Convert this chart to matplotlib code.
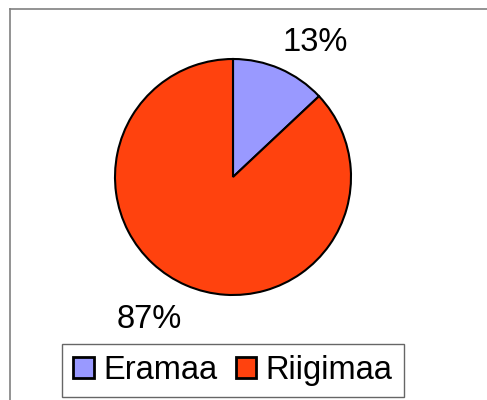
import numpy as np
import matplotlib
matplotlib.use("Agg")
import matplotlib.pyplot as plt
from matplotlib.lines import Line2D
from matplotlib.patches import Patch

categories = ["Eramaa", "Riigimaa"]
values = [13, 87]
colors = ["#9999FF", "#FF420E"]

plt.rcParams['font.family'] = ['Liberation Sans', 'DejaVu Sans']

W, H = 487, 400
fig = plt.figure(figsize=(W / 100, H / 100), dpi=100)

# outer chart border (top and left visible)
fig.add_artist(Line2D([10 / W, 10 / W], [0, 1 - 9 / H], transform=fig.transFigure,
                      color="#808080", lw=1.2))
fig.add_artist(Line2D([10 / W, 1], [1 - 9 / H, 1 - 9 / H], transform=fig.transFigure,
                      color="#808080", lw=1.2))

cx, cy, r = 233, 177, 118
ax = fig.add_axes([(cx - r) / W, 1 - (cy + r) / H, 2 * r / W, 2 * r / H])
wedges, _ = ax.pie(values, colors=colors, startangle=90, counterclock=False,
                   wedgeprops=dict(edgecolor="black", linewidth=1.5))
ax.set_xlim(-1, 1)
ax.set_ylim(-1, 1)
ax.set_aspect("equal")
ax.axis("off")

total = sum(values)
offsets = [-8, -7]
dists = [1.34, 1.40]
for w, v, off, d in zip(wedges, values, offsets, dists):
    mid = np.deg2rad((w.theta1 + w.theta2) / 2 + off)
    ax.text(d * np.cos(mid), d * np.sin(mid), f"{round(100 * v / total)}%",
            ha="center", va="center", fontsize=23.5, clip_on=False)

handles = [Patch(facecolor=c, edgecolor="black", linewidth=2) for c in colors]
leg = fig.legend(handles, categories, loc="center", bbox_to_anchor=(233 / W, 1 - 370.5 / H),
                 ncol=2, fontsize=23.5, frameon=True, fancybox=False,
                 handlelength=0.62, handleheight=0.62, handletextpad=0.3,
                 columnspacing=0.55, borderpad=0.35, borderaxespad=0)
leg.get_frame().set_edgecolor("#404040")
leg.get_frame().set_linewidth(1.0)

fig.savefig("out.png", dpi=100)
